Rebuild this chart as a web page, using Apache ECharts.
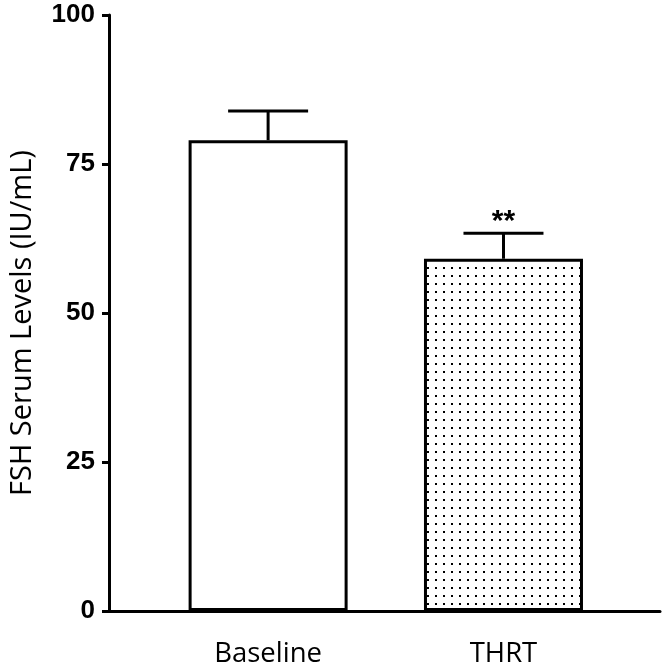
<!DOCTYPE html>
<html>
<head>
<meta charset="utf-8">
<style>html,body{margin:0;padding:0;background:#fff;}#c{width:664px;height:671px;}</style>
<script src="https://cdn.jsdelivr.net/npm/echarts@6/dist/echarts.min.js"></script>
</head>
<body>
<div id="c"></div>
<script>
var categories = ['Baseline', 'THRT'];
var categoryPositions = [0.676, 1.676];
var means = [79.0, 59.1];
var sems = [4.9, 4.3];
var significance = ['', '**'];
var yTicks = [0, 25, 50, 75, 100];

var dotCanvas = document.createElement('canvas');
dotCanvas.width = 8; dotCanvas.height = 8;
var dctx = dotCanvas.getContext('2d');
dctx.fillStyle = '#fff'; dctx.fillRect(0, 0, 8, 8);
dctx.fillStyle = '#000'; dctx.fillRect(3, 3, 2, 2);

var barData = means.map(function (m, i) {
  return {
    value: [categoryPositions[i], m],
    itemStyle: i === 0 ? { color: '#fff' } : { color: { image: dotCanvas, repeat: 'repeat' } }
  };
});
var errData = means.map(function (m, i) { return [categoryPositions[i], m, m + sems[i], i]; });

var chart = echarts.init(document.getElementById('c'), null, { renderer: 'canvas' });
chart.setOption({
  animation: false,
  backgroundColor: '#fff',
  grid: { left: 104, right: 4, top: 15, bottom: 60, containLabel: false },
  xAxis: {
    type: 'value', min: 0, max: 2.341,
    splitLine: { show: false },
    axisLine: { show: true, onZero: false, lineStyle: { color: '#000', width: 3 } },
    axisTick: { show: false },
    axisLabel: {
      customValues: categoryPositions,
      formatter: function (v) {
        var idx = categoryPositions.indexOf(v);
        return idx >= 0 ? categories[idx] : '';
      },
      fontFamily: 'Open Sans', fontSize: 27.5, color: '#000', margin: 29
    }
  },
  yAxis: {
    type: 'value', min: yTicks[0], max: yTicks[yTicks.length - 1], interval: 25,
    splitLine: { show: false },
    axisLine: { show: true, lineStyle: { color: '#000', width: 3 } },
    axisTick: { show: true, inside: false, length: 7, lineStyle: { color: '#000', width: 3 } },
    axisLabel: { fontFamily: 'Liberation Sans', fontWeight: 'bold', fontSize: 26, color: '#000', margin: 14 },
    name: 'FSH Serum Levels (IU/mL)',
    nameLocation: 'middle', nameGap: 72, nameRotate: 90,
    nameTextStyle: { fontFamily: 'Open Sans', fontSize: 29, color: '#000', padding: [0, 20, 0, 0] }
  },
  series: [
    {
      type: 'bar', data: barData, barWidth: 159,
      itemStyle: { borderColor: '#000', borderWidth: 3 }
    },
    {
      type: 'custom', data: errData,
      renderItem: function (params, api) {
        var x = api.value(0), m = api.value(1), hi = api.value(2), idx = api.value(3);
        var p0 = api.coord([x, m]);
        var p1 = api.coord([x, hi]);
        var half = 40;
        var children = [
          { type: 'line', shape: { x1: p0[0], y1: p0[1], x2: p1[0], y2: p1[1] }, style: { stroke: '#000', lineWidth: 3 } },
          { type: 'line', shape: { x1: p1[0] - half, y1: p1[1], x2: p1[0] + half, y2: p1[1] }, style: { stroke: '#000', lineWidth: 3 } }
        ];
        if (significance[idx]) {
          children.push({ type: 'text', style: { text: significance[idx], x: p1[0], y: p1[1] - 26, align: 'center', verticalAlign: 'top', font: 'bold 30px "Liberation Sans"', fill: '#000' } });
        }
        return { type: 'group', children: children };
      },
      z: 3
    }
  ]
});
</script>
</body>
</html>
